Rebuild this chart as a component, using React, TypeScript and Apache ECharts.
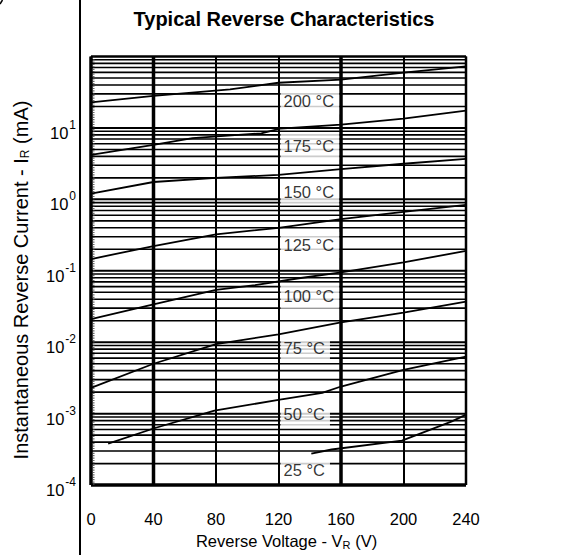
import React, { useEffect, useRef } from "react";
import * as echarts from "echarts";

const FONT = '"Liberation Sans", Arial, Helvetica, sans-serif';

// Axis ticks
const xTicks = [0, 40, 80, 120, 160, 200, 240];
const heavyX = [40, 160];
const decadeExponents = [-4, -3, -2, -1, 0, 1];
const minorMultipliers = [2, 3, 4, 5, 6, 7, 8, 9];
const yMin = 1e-4;
const yMax = 100;

// Curves: [reverse voltage (V), reverse current (mA)]
const curve200 = [[0, 22.8], [40, 28.1], [89, 34.7], [120, 42.9], [160, 47.6], [200, 59.4], [240, 72.5]];
const curve175 = [[0, 4.2], [40, 5.8], [65, 7.2], [109, 8.4], [121, 9.8], [160, 11.1], [200, 13.5], [240, 17.5]];
const curve150 = [[0, 1.2], [40, 1.75], [80, 2.0], [120, 2.2], [160, 2.65], [200, 3.15], [240, 3.7]];
const curve125 = [[0, 0.146], [40, 0.222], [80, 0.324], [120, 0.4], [160, 0.53], [200, 0.67], [240, 0.84]];
const curve100 = [[0, 0.021], [40, 0.034], [80, 0.054], [105, 0.063], [132, 0.078], [160, 0.095], [200, 0.131], [240, 0.19]];
const curve75 = [[0, 0.0023], [40, 0.005], [80, 0.0094], [120, 0.0129], [160, 0.019], [200, 0.026], [240, 0.037]];
const curve50 = [[11, 0.00038], [41, 0.00063], [79, 0.0011], [120, 0.00156], [148, 0.00195], [160, 0.0024], [200, 0.0041], [240, 0.0063]];
const curve25 = [[141, 0.000275], [154, 0.000315], [199, 0.00042], [231, 0.00078], [240, 0.00097]];

const curves = [curve200, curve175, curve150, curve125, curve100, curve75, curve50, curve25];

// Temperature labels
const labelTexts = ["200 °C", "175 °C", "150 °C", "125 °C", "100 °C", "75 °C", "50 °C", "25 °C"];
const labelValues = [23.5, 5.5, 1.26, 0.229, 0.0448, 0.00824, 0.001, 0.000163];
const labelX = 120;

const GAP = "-";

function hSegments(values: number[]) {
  const out: any[] = [];
  values.forEach((v) => {
    out.push([xTicks[0], v], [xTicks[xTicks.length - 1], v], [xTicks[xTicks.length - 1], GAP]);
  });
  return out;
}

function vSegments(xs: number[]) {
  const out: any[] = [];
  xs.forEach((x) => {
    out.push([x, yMin], [x, yMax], [x, GAP]);
  });
  return out;
}

function gridSeries(data: any[], width: number, extra: any = {}) {
  return {
    type: "line",
    data,
    showSymbol: false,
    symbol: "none",
    silent: true,
    clip: false,
    connectNulls: false,
    z: 1,
    lineStyle: { color: "#000", width, type: "solid", ...extra },
  };
}

export default function App() {
  const ref = useRef<HTMLDivElement>(null);

  useEffect(() => {
    const chart = echarts.init(ref.current!, null, { renderer: "svg" });

    const minorValues: number[] = [];
    const decadeValues: number[] = [];
    decadeExponents.forEach((e) => {
      if (e !== decadeExponents[0]) decadeValues.push(Math.pow(10, e));
      minorMultipliers.forEach((m) => minorValues.push(m * Math.pow(10, e)));
    });

    const option: any = {
      animation: false,
      backgroundColor: "#fff",
      title: {
        text: "Typical Reverse Characteristics",
        left: 279,
        textAlign: "center",
        top: 4,
        textStyle: { fontFamily: FONT, fontWeight: "bold", fontSize: 20, color: "#000" },
      },
      grid: {
        left: 91,
        top: 56.5,
        width: 375,
        height: 437.5,
        show: false,
      },
      xAxis: {
        type: "value",
        min: xTicks[0],
        max: xTicks[xTicks.length - 1],
        interval: 40,
        axisLine: { show: false },
        axisTick: { show: false },
        axisLabel: { fontSize: 16.5, color: "#000", fontFamily: FONT, margin: 25 },
        splitLine: { show: true, lineStyle: { color: "#000", width: 2 } },
        name: "Reverse Voltage - V{sub|R} (V)",
        nameLocation: "middle",
        nameGap: 39,
        nameTextStyle: {
          fontFamily: FONT,
          fontSize: 16.5,
          color: "#000",
          padding: [0, 0, 0, 16],
          rich: {
            sub: { fontFamily: FONT, fontSize: 11, color: "#000", padding: [8, 0, 0, 0] },
          },
        },
      },
      yAxis: {
        type: "log",
        logBase: 10,
        min: yMin,
        max: yMax,
        splitNumber: 6,
        axisLine: { show: false },
        axisTick: { show: false },
        splitLine: { show: false },
        axisLabel: {
          margin: 15,
          formatter: (v: number) => {
            const e = Math.round(Math.log10(v));
            return e >= 2 ? "" : "{b|10}{sup|" + e + "}";
          },
          rich: {
            b: { fontFamily: FONT, fontSize: 16.5, color: "#000", padding: [10, 0, 0, 0] },
            sup: { fontFamily: FONT, fontSize: 12, color: "#000", padding: [0, 0, 6, 1] },
          },
        },
      },
      graphic: [
        {
          type: "line",
          shape: { x1: 80, y1: 0, x2: 80, y2: 555 },
          style: { stroke: "#000", lineWidth: 2 },
          z: 100,
        },
        {
          type: "line",
          shape: { x1: 0, y1: 4, x2: 2.5, y2: 0 },
          style: { stroke: "#000", lineWidth: 1.5 },
        },
        {
          type: "text",
          x: 21,
          y: 280,
          rotation: Math.PI / 2,
          style: {
            text: "Instantaneous Reverse Current - I{sub|R} (mA)",
            fontFamily: FONT,
            fontSize: 20,
            fill: "#000",
            align: "center",
            verticalAlign: "middle",
            rich: {
              sub: { fontFamily: FONT, fontSize: 12, fill: "#000", padding: [8, 0, 0, 0] },
            },
          },
        },
      ],
      series: [
        gridSeries(hSegments(minorValues), 1.6),
        gridSeries(hSegments(decadeValues), 2),
        gridSeries(hSegments([yMax]), 2.5),
        gridSeries(hSegments([yMin]), 3.5),
        gridSeries(vSegments([xTicks[xTicks.length - 1]]), 2.5),
        gridSeries(vSegments([xTicks[0], ...heavyX]), 3.5),
        gridSeries(vSegments([1.8]), 1.2, { type: "dotted", color: "#444" }),
        ...curves.map((c) => ({
          type: "line",
          data: c,
          showSymbol: false,
          symbol: "none",
          silent: true,
          z: 3,
          lineStyle: { color: "#000", width: 1.8 },
        })),
        {
          type: "scatter",
          symbolSize: 0.01,
          silent: true,
          z: 10,
          itemStyle: { color: "#fff" },
          data: labelValues.map((v, i) => ({ name: labelTexts[i], value: [labelX, v] })),
          label: {
            show: true,
            position: "right",
            distance: 2,
            formatter: "{b}",
            backgroundColor: "#fff",
            padding: [5, 5, 4, 3],
            fontFamily: FONT,
            fontSize: 16.5,
            color: "#000",
          },
        },
      ],
    };

    chart.setOption(option);
    return () => chart.dispose();
  }, []);

  return (
    <div
      ref={ref}
      style={{ position: "fixed", left: 0, top: 0, width: 563, height: 555, background: "#fff" }}
    />
  );
}
